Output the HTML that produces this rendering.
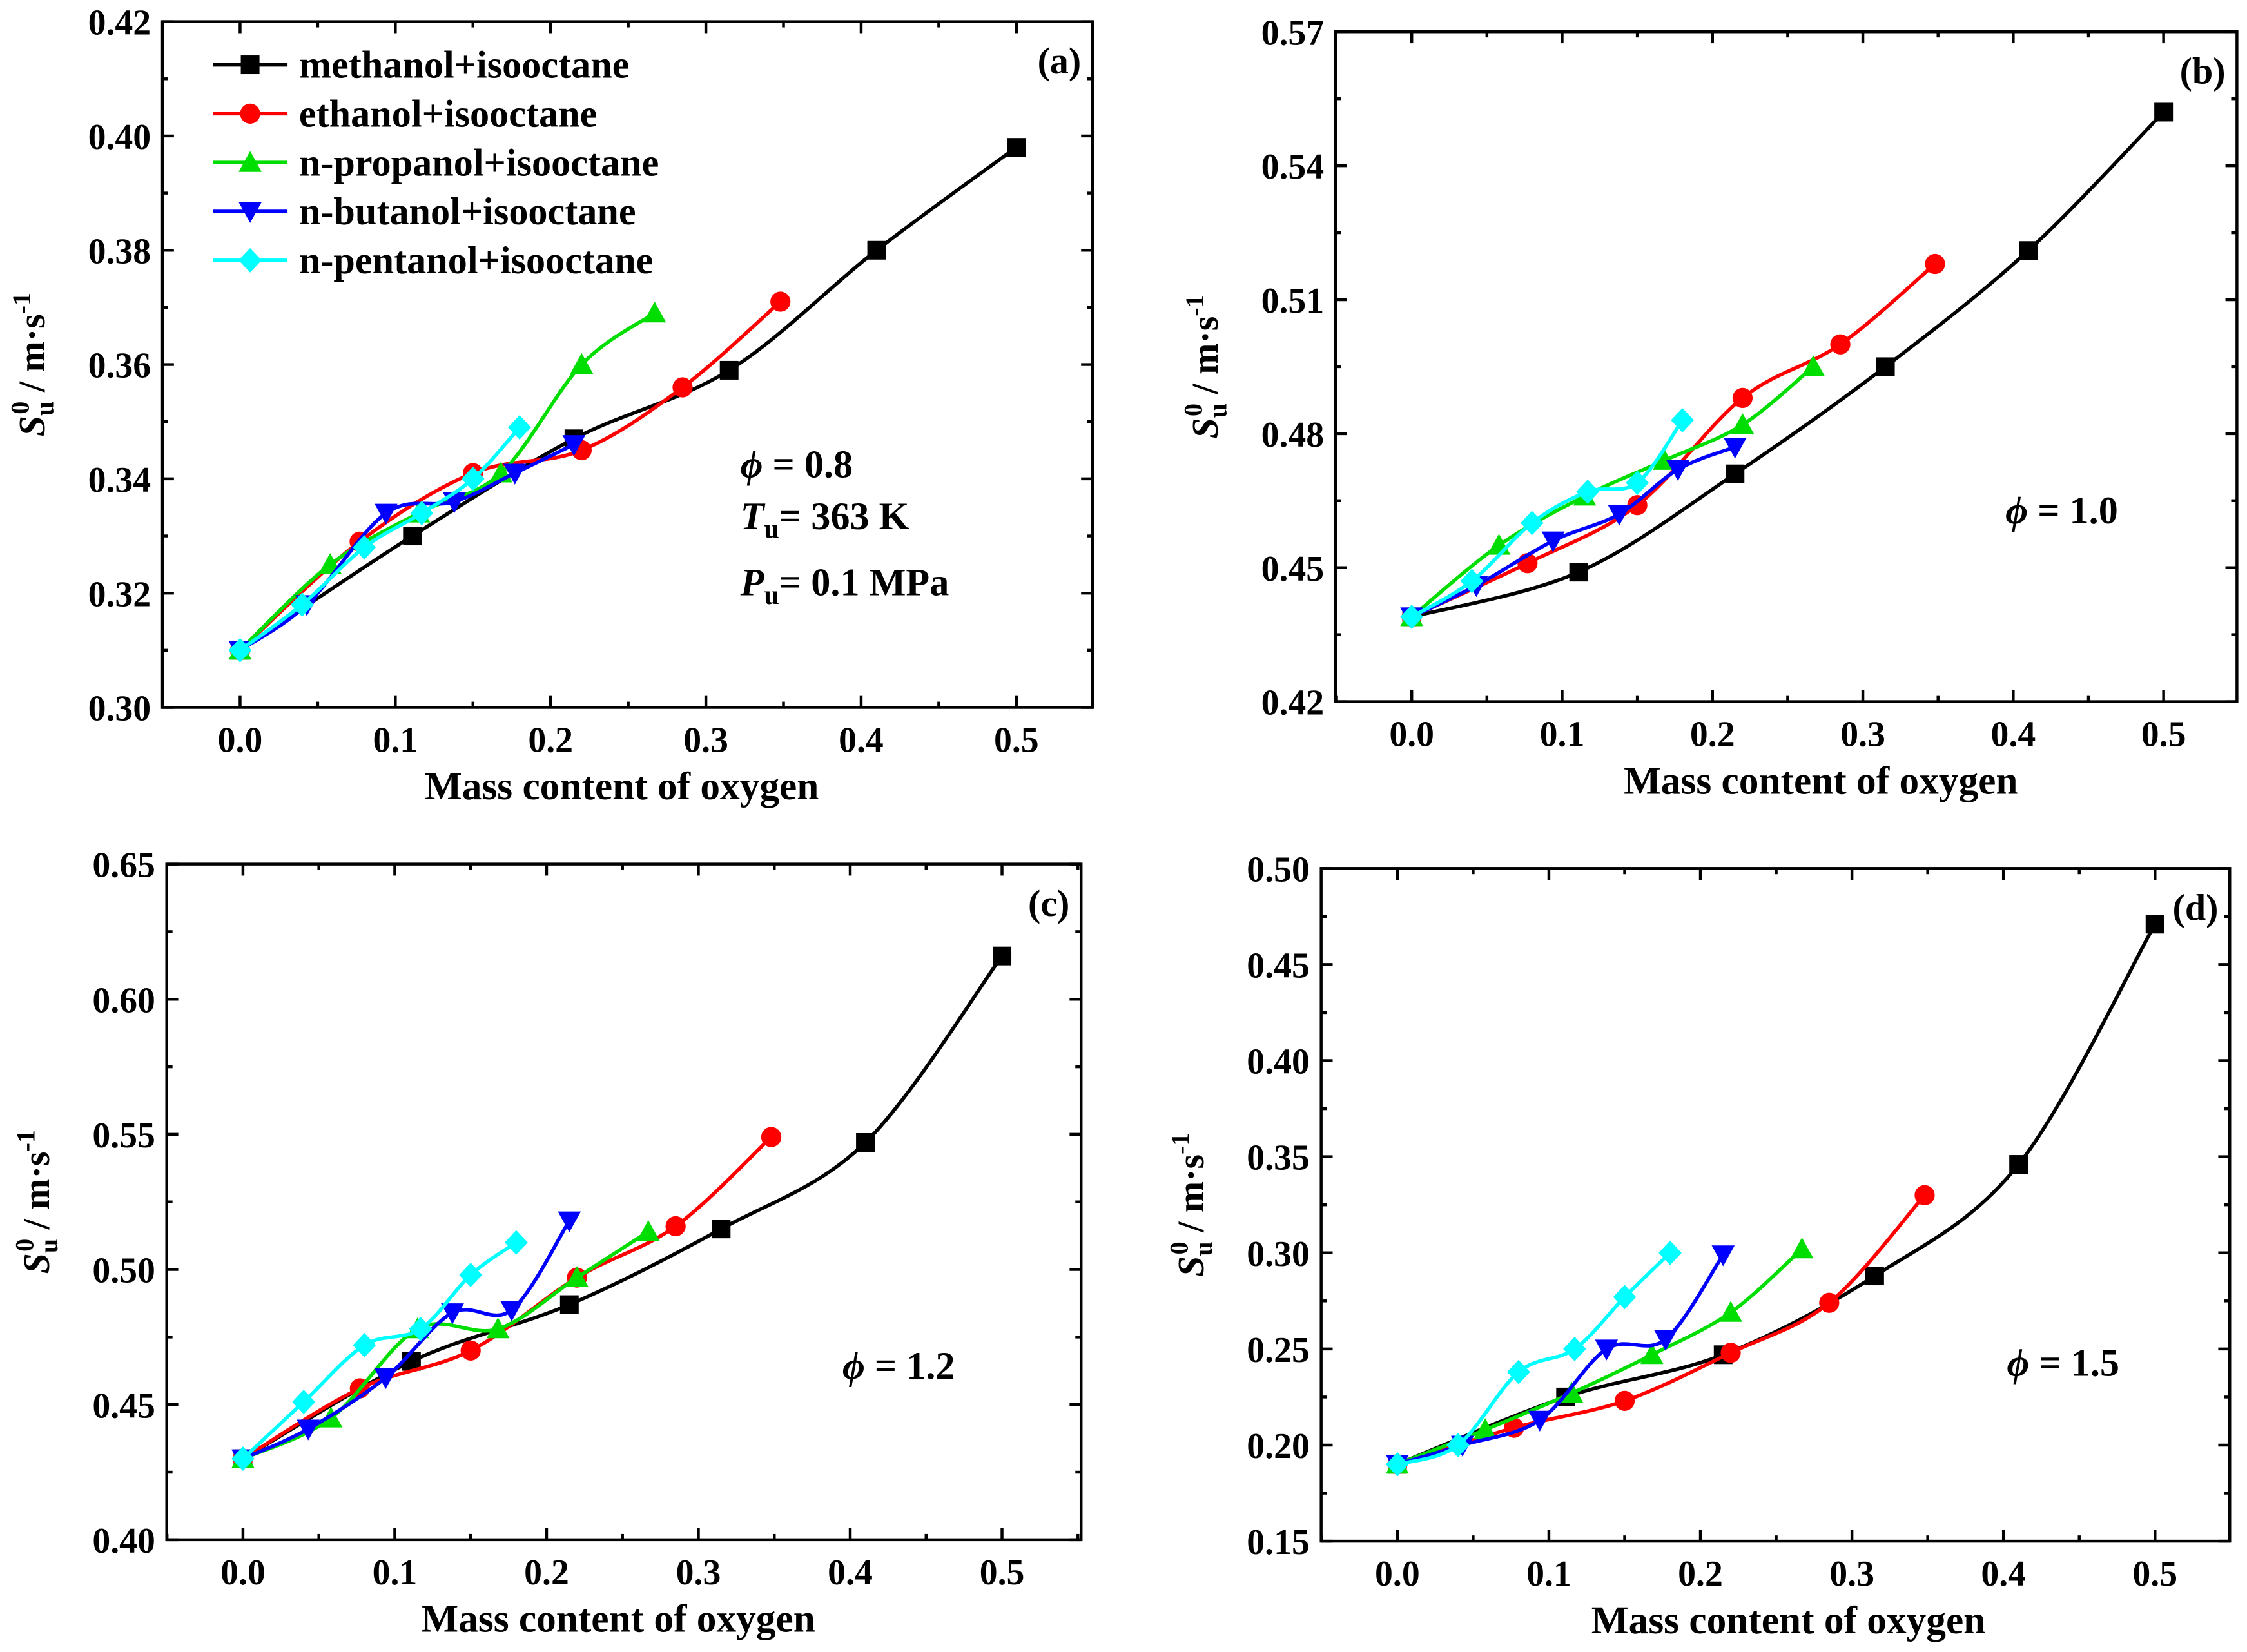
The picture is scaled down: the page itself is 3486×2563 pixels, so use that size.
<!DOCTYPE html>
<html><head><meta charset="utf-8">
<style>
html,body{margin:0;padding:0;background:#fff;}
svg{display:block;}
text{font-family:"Liberation Serif",serif;font-weight:bold;fill:#000;}
</style></head>
<body>
<svg id="chart" width="3486" height="2563" viewBox="0 0 1563 1149" xmlns="http://www.w3.org/2000/svg"></svg>
<script>
// x values (mass content of oxygen) per fuel
const xMethanol=[0,0.111,0.215,0.315,0.41,0.5];
const xEthanol=[0,0.077,0.15,0.22,0.285,0.348];
const xPropanol=[0,0.058,0.115,0.168,0.22,0.267];
const xButanol=[0,0.043,0.094,0.138,0.177,0.215];
const xPentanol=[0,0.04,0.08,0.117,0.15,0.18];
// panel (a) phi=0.8
const aMethanol=[0.310,0.330,0.347,0.359,0.380,0.398];
const aEthanol=[0.310,0.329,0.341,0.345,0.356,0.371];
const aPropanol=[0.310,0.325,0.334,0.341,0.360,0.369];
const aButanol=[0.310,0.318,0.334,0.336,0.341,0.346];
const aPentanol=[0.310,0.318,0.328,0.334,0.340,0.349];
// panel (b) phi=1.0
const bMethanol=[0.439,0.449,0.471,0.495,0.521,0.552];
const bEthanol=[0.439,0.451,0.464,0.488,0.500,0.518];
const bPropanol=[0.439,0.455,0.466,0.474,0.482,0.495];
const bButanol=[0.439,0.446,0.456,0.462,0.472,0.477];
const bPentanol=[0.439,0.447,0.460,0.467,0.469,0.483];
// panel (c) phi=1.2
const cMethanol=[0.430,0.466,0.487,0.515,0.547,0.616];
const cEthanol=[0.430,0.456,0.470,0.497,0.516,0.549];
const cPropanol=[0.430,0.445,0.478,0.478,0.497,0.514];
const cButanol=[0.430,0.441,0.460,0.484,0.485,0.518];
const cPentanol=[0.430,0.451,0.472,0.478,0.498,0.510];
// panel (d) phi=1.5
const dMethanol=[0.190,0.225,0.247,0.288,0.346,0.471];
const dEthanol=[0.190,0.209,0.223,0.248,0.274,0.330];
const dPropanol=[0.190,0.208,0.227,0.247,0.269,0.302];
const dButanol=[0.190,0.200,0.213,0.250,0.255,0.299];
const dPentanol=[0.190,0.200,0.238,0.250,0.277,0.300];
const xTicks=[0,0.1,0.2,0.3,0.4,0.5];
const xTickLabels=["0.0","0.1","0.2","0.3","0.4","0.5"];
const aTicks=[0.30,0.32,0.34,0.36,0.38,0.40,0.42];
const bTicks=[0.42,0.45,0.48,0.51,0.54,0.57];
const cTicks=[0.40,0.45,0.50,0.55,0.60,0.65];
const dTicks=[0.15,0.20,0.25,0.30,0.35,0.40,0.45,0.50];
const seriesNames=["methanol+isooctane","ethanol+isooctane","n-propanol+isooctane","n-butanol+isooctane","n-pentanol+isooctane"];
const seriesKeys=["methanol","ethanol","propanol","butanol","pentanol"];
const colors=["#000000","#ff0000","#00dd00","#0000ff","#00ffff"];
const markers=["square","circle","up","down","diamond"];

const NS="http://www.w3.org/2000/svg";
const svg=document.getElementById('chart');
function mk(tag,attrs,parent){const e=document.createElementNS(NS,tag);for(const k in attrs)e.setAttribute(k,attrs[k]);(parent||svg).appendChild(e);return e;}

function marker(g,type,x,y,c){
  const s=6.5;let e;
  if(type==="square")e=mk('rect',{x:x-s,y:y-s,width:2*s,height:2*s,fill:c},g);
  else if(type==="circle")e=mk('circle',{cx:x,cy:y,r:s+0.5,fill:c},g);
  else if(type==="up")e=mk('polygon',{points:`${x},${y-s-1.5} ${x+s+1.5},${y+s} ${x-s-1.5},${y+s}`,fill:c},g);
  else if(type==="down")e=mk('polygon',{points:`${x},${y+s+1.5} ${x+s+1.5},${y-s} ${x-s-1.5},${y-s}`,fill:c},g);
  else e=mk('polygon',{points:`${x},${y-s-2} ${x+s+1.5},${y} ${x},${y+s+2} ${x-s-1.5},${y}`,fill:c},g);
  
  
}
function smooth(pts){
  let d=`M${pts[0][0]},${pts[0][1]}`;
  for(let i=0;i<pts.length-1;i++){
    const p0=pts[i-1]||pts[i],p1=pts[i],p2=pts[i+1],p3=pts[i+2]||p2;
    const c1=[p1[0]+(p2[0]-p0[0])/6,p1[1]+(p2[1]-p0[1])/6];
    const c2=[p2[0]-(p3[0]-p1[0])/6,p2[1]-(p3[1]-p1[1])/6];
    d+=` C${c1[0]},${c1[1]} ${c2[0]},${c2[1]} ${p2[0]},${p2[1]}`;
  }
  return d;
}

function panel(cfg){
  const g=mk('g',{});
  
  
  const {L,R,T,B,x0,x5,yMin,yMax,ticks}=cfg;
  const X=v=>x0+(x5-x0)*v/0.5;
  const Y=v=>B-(B-T)*(v-yMin)/(yMax-yMin);
  const frame=mk('rect',{x:L,y:T,width:R-L,height:B-T,fill:'none',stroke:'#000','stroke-width':2},g);
  
  
  xTicks.forEach((v,i)=>{
    const x=X(v);
    mk('line',{x1:x,y1:B,x2:x,y2:B-8,stroke:'#000','stroke-width':2},g);
    mk('line',{x1:x,y1:T,x2:x,y2:T+8,stroke:'#000','stroke-width':2},g);
    const xm=X(v+0.05);
    if(xm<R){mk('line',{x1:xm,y1:B,x2:xm,y2:B-4,stroke:'#000','stroke-width':2},g);mk('line',{x1:xm,y1:T,x2:xm,y2:T+4,stroke:'#000','stroke-width':2},g);}
    const t=mk('text',{x:x,y:B+31,'text-anchor':'middle','font-size':25},g);t.textContent=xTickLabels[i];
    
    
  });
  const xm0=X(-0.05);
  if(xm0>L){mk('line',{x1:xm0,y1:B,x2:xm0,y2:B-4,stroke:'#000','stroke-width':2},g);}
  ticks.forEach((v,i)=>{
    const y=Y(v);
    mk('line',{x1:L,y1:y,x2:L+8,y2:y,stroke:'#000','stroke-width':2},g);
    mk('line',{x1:R,y1:y,x2:R-8,y2:y,stroke:'#000','stroke-width':2},g);
    if(i<ticks.length-1){const ym=Y((v+ticks[i+1])/2);
      mk('line',{x1:L,y1:ym,x2:L+4,y2:ym,stroke:'#000','stroke-width':2},g);
      mk('line',{x1:R,y1:ym,x2:R-4,y2:ym,stroke:'#000','stroke-width':2},g);}
    const t=mk('text',{x:L-8,y:y+9,'text-anchor':'end','font-size':25},g);t.textContent=v.toFixed(2);
    
    
  });
  const xt=mk('text',{x:(L+R)/2-4+(cfg.tdx||0),y:B+64,'text-anchor':'middle','font-size':27.5},g);
  xt.textContent="Mass content of oxygen";
  
  
  const yt=mk('text',{'text-anchor':'middle','font-size':26,transform:`translate(${L-82},${(T+B)/2}) rotate(-90)`},g);
  yt.innerHTML='<tspan font-style="italic">S</tspan><tspan dy="6" font-size="18">u</tspan><tspan dx="-9" dy="-17" font-size="18">0</tspan><tspan dy="11"> / m·s</tspan><tspan dy="-10" font-size="18">-1</tspan>';
  
  
  const lab=mk('text',{x:R-8,y:T+36,'text-anchor':'end','font-size':26},g);lab.textContent=`(${cfg.id})`;
  
  
  const xs=[xMethanol,xEthanol,xPropanol,xButanol,xPentanol];
  cfg.data.forEach((ys,si)=>{
    const pts=ys.map((v,i)=>[X(xs[si][i]),Y(v)]);
    const sg=mk('g',{},g);
    
    
    mk('path',{d:smooth(pts),fill:'none',stroke:colors[si],'stroke-width':2.5},sg);
    pts.forEach(p=>marker(sg,markers[si],p[0],p[1],colors[si]));
  });
  return g;
}

panel({id:'a',L:113,R:760,T:15,B:492,x0:167,x5:707,yMin:0.30,yMax:0.42,ticks:aTicks,data:[aMethanol,aEthanol,aPropanol,aButanol,aPentanol]});
panel({id:'b',L:929,R:1556,T:22,B:488,x0:982,x5:1505,yMin:0.42,yMax:0.57,ticks:bTicks,tdx:28,data:[bMethanol,bEthanol,bPropanol,bButanol,bPentanol]});
panel({id:'c',L:116,R:752,T:601,B:1071,x0:169,x5:697,yMin:0.40,yMax:0.65,ticks:cTicks,data:[cMethanol,cEthanol,cPropanol,cButanol,cPentanol]});
panel({id:'d',L:919,R:1551,T:604,B:1072,x0:972,x5:1499,yMin:0.15,yMax:0.50,ticks:dTicks,tdx:13,data:[dMethanol,dEthanol,dPropanol,dButanol,dPentanol]});

const lg=mk('g',{});


seriesNames.forEach((n,i)=>{
  const y=45+i*34;
  const eg=mk('g',{},lg);
  
  
  mk('line',{x1:148,y1:y,x2:200,y2:y,stroke:colors[i],'stroke-width':2.5},eg);
  marker(eg,markers[i],174,y,colors[i]);
  const t=mk('text',{x:208,y:y+9,'font-size':27},eg);t.textContent=n;
});

function ann(x,y,html,name){const t=mk('text',{x:x,y:y,'font-size':27});t.innerHTML=html;
  
  }
ann(515,332,'<tspan font-style="italic">ϕ</tspan> = 0.8','phi-annotation');
ann(515,368,'<tspan font-style="italic">T</tspan><tspan dy="6" font-size="19">u</tspan><tspan dy="-6">= 363 K</tspan>','temperature-annotation');
ann(515,414,'<tspan font-style="italic">P</tspan><tspan dy="6" font-size="19">u</tspan><tspan dy="-6">= 0.1 MPa</tspan>','pressure-annotation');
ann(1395,364,'<tspan font-style="italic">ϕ</tspan> = 1.0','phi-annotation-b');
ann(586,959,'<tspan font-style="italic">ϕ</tspan> = 1.2','phi-annotation-c');
ann(1396,957,'<tspan font-style="italic">ϕ</tspan> = 1.5','phi-annotation-d');
</script>
</body></html>
